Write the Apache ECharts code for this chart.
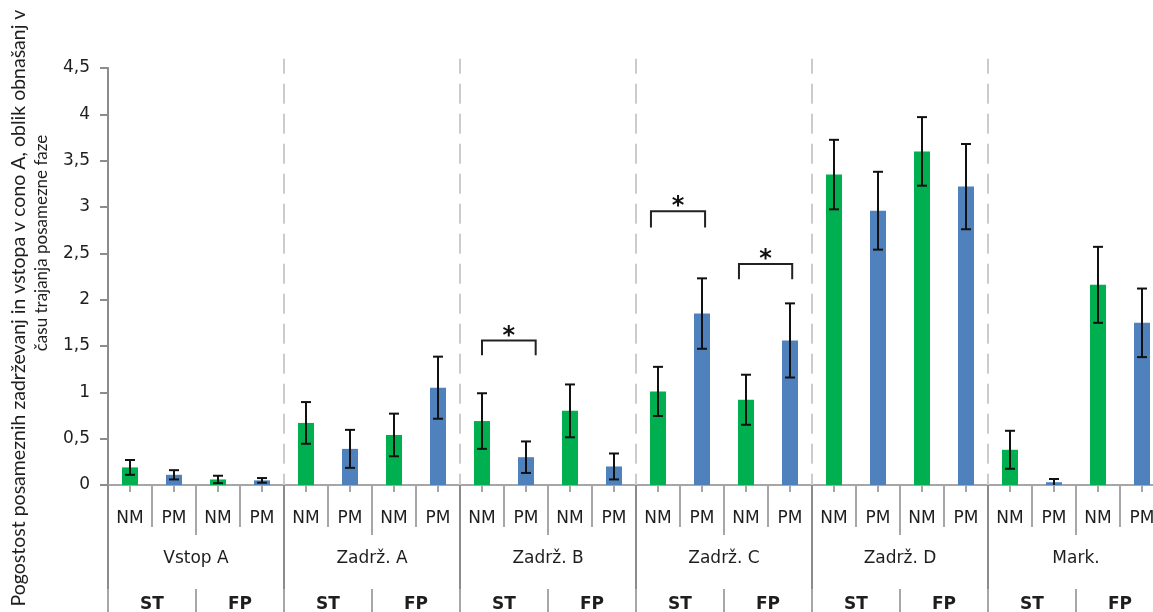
<!DOCTYPE html>
<html>
<head>
<meta charset="utf-8">
<script src="https://cdn.jsdelivr.net/npm/echarts@6/dist/echarts.min.js"></script>
<style>
  html, body { margin: 0; padding: 0; background: #fff; }
  #chart { width: 1153px; height: 612px; }
</style>
</head>
<body>
<div id="chart"></div>
<script>
// Behaviour categories (outer level), phases (middle level), measures (inner level)
const groups = ['Vstop A', 'Zadrž. A', 'Zadrž. B', 'Zadrž. C', 'Zadrž. D', 'Mark.'];
const phases = ['ST', 'FP'];
const measures = ['NM', 'PM'];

// Mean values, one per bar, in order group → phase → measure
const means = [
  0.19, 0.11, 0.06, 0.05,
  0.67, 0.39, 0.54, 1.05,
  0.69, 0.30, 0.80, 0.20,
  1.01, 1.85, 0.92, 1.56,
  3.35, 2.96, 3.60, 3.22,
  0.38, 0.03, 2.16, 1.75
];

// Error (± half range) for each bar
const errors = [
  0.08, 0.05, 0.04, 0.025,
  0.225, 0.205, 0.23, 0.335,
  0.30, 0.17, 0.285, 0.14,
  0.265, 0.38, 0.27, 0.40,
  0.375, 0.42, 0.37, 0.46,
  0.205, 0.035, 0.41, 0.37
];

// Significance brackets: start/end in category index units, top and leg end in data units
const brackets = [
  [8.00, 9.22, 1.56, 1.40],
  [11.84, 13.07, 2.955, 2.78],
  [13.84, 15.05, 2.385, 2.22]
];
const bracketMark = '*';

const yTicks = { min: 0, max: 4.5, step: 0.5 };

const yTitle = [
  'Pogostost posameznih zadrževanj in vstopa v cono A, oblik obnašanj v',
  'času trajanja posamezne faze'
];

// Derived category lists for the stacked axis levels
const innerCats = [];
groups.forEach(() => phases.forEach(() => measures.forEach(m => innerCats.push(m))));
const phaseCats = [];
groups.forEach(() => phases.forEach(p => phaseCats.push(p)));

const colors = { NM: '#00B050', PM: '#4F81BD' };
const gridLine = '#a6a6a6';
const textColor = '#1e1e1e';
const labelFont = 'DejaVu Sans';

const errorData = means.map((v, i) => [i, v - errors[i], v + errors[i]]);
const groupBounds = [];
for (let g = 1; g < groups.length; g++) groupBounds.push([g * phases.length * measures.length]);

function xAt(api, pos) {
  const i = Math.floor(pos);
  const band = api.size([1, 0])[0];
  return api.coord([i, 0])[0] + (pos - i) * band;
}

const chart = echarts.init(document.getElementById('chart'), null, { renderer: 'canvas' });

const hiddenAxis = {
  type: 'category', position: 'bottom', gridIndex: 0,
  axisLine: { show: false }, axisLabel: { show: false }, splitLine: { show: false }
};

chart.setOption({
  animation: false,
  backgroundColor: '#fff',
  // the last category runs slightly past the right edge of the canvas
  grid: { left: 108, top: 68, right: -11, bottom: 127, containLabel: false, outerBoundsMode: 'none' },
  xAxis: [
    {
      type: 'category', data: innerCats, position: 'bottom',
      axisLine: { show: true, lineStyle: { color: gridLine, width: 2 } },
      axisTick: { show: true, alignWithLabel: true, interval: 0, length: 7, lineStyle: { color: gridLine, width: 2 } },
      axisLabel: { interval: 0, margin: 25, color: textColor, fontFamily: labelFont, fontSize: 17 },
      splitLine: { show: false }
    },
    Object.assign({}, hiddenAxis, {
      data: innerCats,
      axisTick: { show: true, interval: 0, length: 42, lineStyle: { color: gridLine, width: 2 } }
    }),
    Object.assign({}, hiddenAxis, {
      data: phaseCats,
      axisTick: { show: true, interval: 0, length: 50, lineStyle: { color: gridLine, width: 2 } },
      axisLabel: { show: true, interval: 0, margin: 111, color: textColor, fontFamily: labelFont, fontSize: 17, fontWeight: 'bold' }
    }),
    Object.assign({}, hiddenAxis, {
      data: groups,
      axisTick: { show: true, interval: 0, length: 130, lineStyle: { color: '#8c8c8c', width: 2 } },
      axisLabel: { show: true, interval: 0, margin: 65, color: textColor, fontFamily: labelFont, fontSize: 17 }
    }),
    Object.assign({}, hiddenAxis, {
      data: phaseCats, offset: 104,
      axisTick: { show: true, interval: 0, length: 30, lineStyle: { color: gridLine, width: 2 } }
    })
  ],
  yAxis: {
    type: 'value', min: yTicks.min, max: yTicks.max, interval: yTicks.step,
    axisLine: { show: true, lineStyle: { color: '#8c8c8c', width: 2 } },
    axisTick: { show: true, length: 8, lineStyle: { color: '#8c8c8c', width: 2 } },
    axisLabel: {
      margin: 18, color: textColor, fontFamily: labelFont, fontSize: 17,
      formatter: v => String(v).replace('.', ',')
    },
    splitLine: { show: false }
  },
  graphic: [
    {
      type: 'text', x: 19, y: 308, rotation: Math.PI / 2,
      style: {
        text: yTitle[0],
        font: '19.5px Lato', fill: '#1e1e1e', align: 'center', verticalAlign: 'middle'
      }
    },
    {
      type: 'text', x: 42, y: 243, rotation: Math.PI / 2,
      style: {
        text: yTitle[1],
        font: '17px Lato', fill: '#1e1e1e', align: 'center', verticalAlign: 'middle'
      }
    }
  ],
  series: [
    {
      // dashed separators between behaviour categories
      type: 'custom', xAxisIndex: 0, clip: false, silent: true, z: 1,
      data: groupBounds,
      renderItem: (params, api) => {
        const x = xAt(api, api.value(0) - 0.5);
        const top = api.coord([0, 4.6])[1];
        const bottom = api.coord([0, 0])[1];
        return {
          type: 'line',
          shape: { x1: x, y1: top, x2: x, y2: bottom },
          style: { stroke: '#cbcbcb', lineWidth: 2, lineDash: [20, 10], lineDashOffset: 5 }
        };
      }
    },
    {
      type: 'bar', xAxisIndex: 0, barWidth: 16, z: 2,
      data: means.map((v, i) => ({ value: v, itemStyle: { color: colors[innerCats[i]] } }))
    },
    {
      // error bars
      type: 'custom', xAxisIndex: 0, z: 3, silent: true,
      data: errorData,
      renderItem: (params, api) => {
        const i = api.value(0);
        const lo = api.coord([i, Math.max(api.value(1), 0)]);
        const hi = api.coord([i, api.value(2)]);
        const cap = 5;
        const st = { stroke: '#111', lineWidth: 2 };
        const children = [
          { type: 'line', shape: { x1: hi[0], y1: hi[1], x2: lo[0], y2: lo[1] }, style: st },
          { type: 'line', shape: { x1: hi[0] - cap, y1: hi[1], x2: hi[0] + cap, y2: hi[1] }, style: st }
        ];
        if (api.value(1) > 0) {
          children.push({ type: 'line', shape: { x1: lo[0] - cap, y1: lo[1], x2: lo[0] + cap, y2: lo[1] }, style: st });
        }
        return { type: 'group', children };
      }
    },
    {
      // significance brackets
      type: 'custom', xAxisIndex: 0, z: 4, silent: true, clip: false,
      data: brackets,
      renderItem: (params, api) => {
        const x1 = xAt(api, api.value(0));
        const x2 = xAt(api, api.value(1));
        const yTop = api.coord([0, api.value(2)])[1];
        const yLeg = api.coord([0, api.value(3)])[1];
        return {
          type: 'group',
          children: [
            {
              type: 'polyline',
              shape: { points: [[x1, yLeg], [x1, yTop], [x2, yTop], [x2, yLeg]] },
              style: { stroke: '#222', lineWidth: 2, fill: null }
            },
            {
              type: 'text',
              x: (x1 + x2) / 2, y: yTop - 4,
              style: {
                text: bracketMark, font: 'bold 24px DejaVu Sans', fill: '#111',
                align: 'center', verticalAlign: 'middle'
              }
            }
          ]
        };
      }
    }
  ]
});
</script>
</body>
</html>
